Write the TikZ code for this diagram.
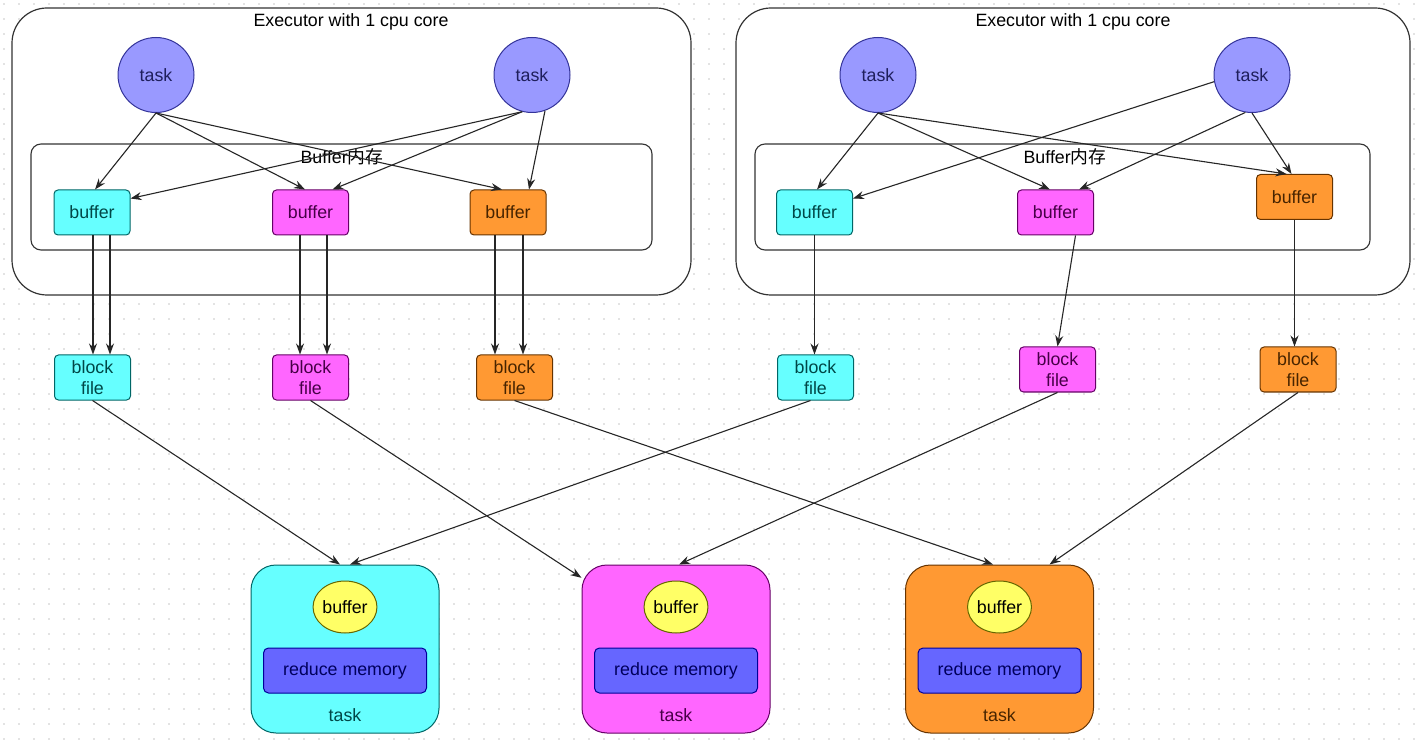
\documentclass[tikz,border=0pt]{standalone}
\usepackage{fontspec}
\setmainfont{Liberation Sans}
\newfontfamily\cjkfont{Noto Sans CJK SC}
\usetikzlibrary{arrows.meta,shapes.geometric}

\definecolor{cyanfill}{HTML}{66FFFF}
\definecolor{cyanline}{HTML}{006666}
\definecolor{magfill}{HTML}{FF66FF}
\definecolor{magline}{HTML}{660066}
\definecolor{orgfill}{HTML}{FF9933}
\definecolor{orgline}{HTML}{663300}
\definecolor{taskfill}{HTML}{9999FF}
\definecolor{taskline}{HTML}{333399}
\definecolor{memfill}{HTML}{6666FF}
\definecolor{memline}{HTML}{000099}
\definecolor{yelfill}{HTML}{FFFF66}
\definecolor{yelline}{HTML}{666600}

\begin{document}
\begin{tikzpicture}[
    x=1pt, y=-1pt,
    font=\fontsize{17.8}{21}\selectfont,
    executor/.style={draw=black!80,fill=white,line width=1.2pt,rounded corners=35pt,minimum width=679pt,minimum height=287pt},
    membox/.style={draw=black!80,fill=white,line width=1.1pt,rounded corners=10pt,minimum height=106pt},
    tasknode/.style={ellipse,draw=taskline,fill=taskfill,line width=1pt,minimum width=76pt,minimum height=75pt,text=taskline!60!black},
    bufbox/.style={draw=#1line,fill=#1fill,line width=1pt,rounded corners=4pt,minimum width=76pt,minimum height=45pt,text=#1line!70!black},
    blockbox/.style={bufbox=#1,align=center,inner sep=1pt},
    reducebox/.style={draw=#1line,fill=#1fill,line width=1pt,rounded corners=25pt,minimum width=188pt,minimum height=168pt},
    ybuf/.style={ellipse,draw=yelline,fill=yelfill,line width=1pt,minimum width=50pt,minimum height=52pt,inner sep=0pt},
    redmem/.style={draw=memline,fill=memfill,line width=1pt,rounded corners=5pt,minimum width=163pt,minimum height=45pt,text=memline!60!black},
    link/.style={-{Stealth[length=11pt,width=8pt]},line width=1.1pt,draw=black!85}
]
    \useasboundingbox (0,0) rectangle (1425,743);

    % background dot grid
    \foreach \gy in {4,19,...,743}
        \draw[gray!22,line width=1.6pt,dash pattern=on 1.6pt off 13.4pt] (3,\gy) -- (1425,\gy);

    % Executors
    \node[executor] (exL) at (351.5,151.5) {};
    \node[executor,minimum width=674pt] (exR) at (1073,151.5) {};
    \node (titL) at (351,22) {Executor with 1 cpu core};
    \node (titR) at (1073,22) {Executor with 1 cpu core};

    % Buffer memory areas
    \node[membox,minimum width=621pt] (memL) at (341.5,197) {};
    \node[membox,minimum width=615pt] (memR) at (1062.5,197) {};
    \node (memLtxt) at (342,157) {Buffer{\cjkfont 内存}};
    \node (memRtxt) at (1065,157) {Buffer{\cjkfont 内存}};

    % Map tasks
    \node[tasknode] (tL1) at (156,75)  {task};
    \node[tasknode] (tL2) at (532,75)  {task};
    \node[tasknode] (tR1) at (878,75)  {task};
    \node[tasknode] (tR2) at (1252,75) {task};

    % Buffers
    \node[bufbox=cyan] (bLc) at (92,212.5)    {buffer};
    \node[bufbox=mag]  (bLm) at (310.5,212.5) {buffer};
    \node[bufbox=org]  (bLo) at (508,212.5)   {buffer};
    \node[bufbox=cyan] (bRc) at (814.5,212.5) {buffer};
    \node[bufbox=mag]  (bRm) at (1055.5,212.5){buffer};
    \node[bufbox=org]  (bRo) at (1294.5,197)  {buffer};

    % Block files
    \node[blockbox=cyan] (fLc) at (92.5,377.5)  {block\\file};
    \node[blockbox=mag]  (fLm) at (310.5,377.5) {block\\file};
    \node[blockbox=org]  (fLo) at (514.5,377.5) {block\\file};
    \node[blockbox=cyan] (fRc) at (815.5,377.5) {block\\file};
    \node[blockbox=mag]  (fRm) at (1057.5,369.5){block\\file};
    \node[blockbox=org]  (fRo) at (1298,369.5)  {block\\file};

    % Reduce tasks
    \node[reducebox=cyan] (rC) at (345,649)   {};
    \node[reducebox=mag]  (rM) at (676,649)   {};
    \node[reducebox=org]  (rO) at (999.5,649) {};
    \foreach \r/\c in {rC/cyan,rM/mag,rO/org} {
        \node[ybuf] (\r buf) at ([yshift=42pt]\r.center) {buffer};
        \node[redmem] (\r mem) at ([yshift=-21.5pt]\r.center) {reduce memory};
        \node[text=\c line!70!black] (\r txt) at ([yshift=-66pt]\r.center) {task};
    }

    % Task -> buffer (left executor)
    \draw[link] (tL1.south) -- ([xshift=3pt]bLc.north);
    \draw[link] (tL1.south) -- ([xshift=-5.5pt]bLm.north);
    \draw[link] (tL1.south) -- ([xshift=-6pt]bLo.north);
    \draw[link] (tL2.255) -- ([yshift=-9pt]bLc.north east);
    \draw[link] (tL2.255) -- ([xshift=22pt]bLm.north);
    \draw[link] (tL2.290) -- ([xshift=21pt]bLo.north);

    % Task -> buffer (right executor)
    \draw[link] (tR1.south) -- ([xshift=2.5pt]bRc.north);
    \draw[link] (tR1.south) -- ([xshift=-5.5pt]bRm.north);
    \draw[link] (tR1.south) -- ([xshift=-8pt]bRo.north);
    \draw[link] (tR2.190) -- ([yshift=-9pt]bRc.north east);
    \draw[link] (tR2.260) -- ([xshift=23.5pt]bRm.north);
    \draw[link] (tR2.south) -- ([xshift=-3pt]bRo.north);

    % Buffer -> block file (two spills each on the left)
    \foreach \b/\f/\da/\db in {bLc/fLc/1/18,bLm/fLm/-10.5/16.5,bLo/fLo/-13/15} {
        \draw[link] ([xshift=\da pt]\b.south) -- ([xshift=\da pt]\b.south |- \f.north);
        \draw[link] ([xshift=\db pt]\b.south) -- ([xshift=\db pt]\b.south |- \f.north);
    }
    \draw[link] (bRc.south) -- (bRc.south |- fRc.north);
    \draw[link] ([xshift=20pt]bRm.south) -- (fRm.north);
    \draw[link,line width=0.8pt] (bRo.south) -- (bRo.south |- fRo.north);

    % Block file -> reduce task
    \draw[link] (fLc.south) -- ([xshift=-5pt]rC.north);
    \draw[link] ([xshift=-5pt]fRc.south) -- ([xshift=5pt]rC.north);
    \draw[link] (fLm.south) -- (rM.143.5);
    \draw[link] (fRm.south) -- ([xshift=3pt]rM.north);
    \draw[link] (fLo.south) -- ([xshift=-6.5pt]rO.north);
    \draw[link] (fRo.south) -- ([xshift=50pt]rO.north);
\end{tikzpicture}
\end{document}
